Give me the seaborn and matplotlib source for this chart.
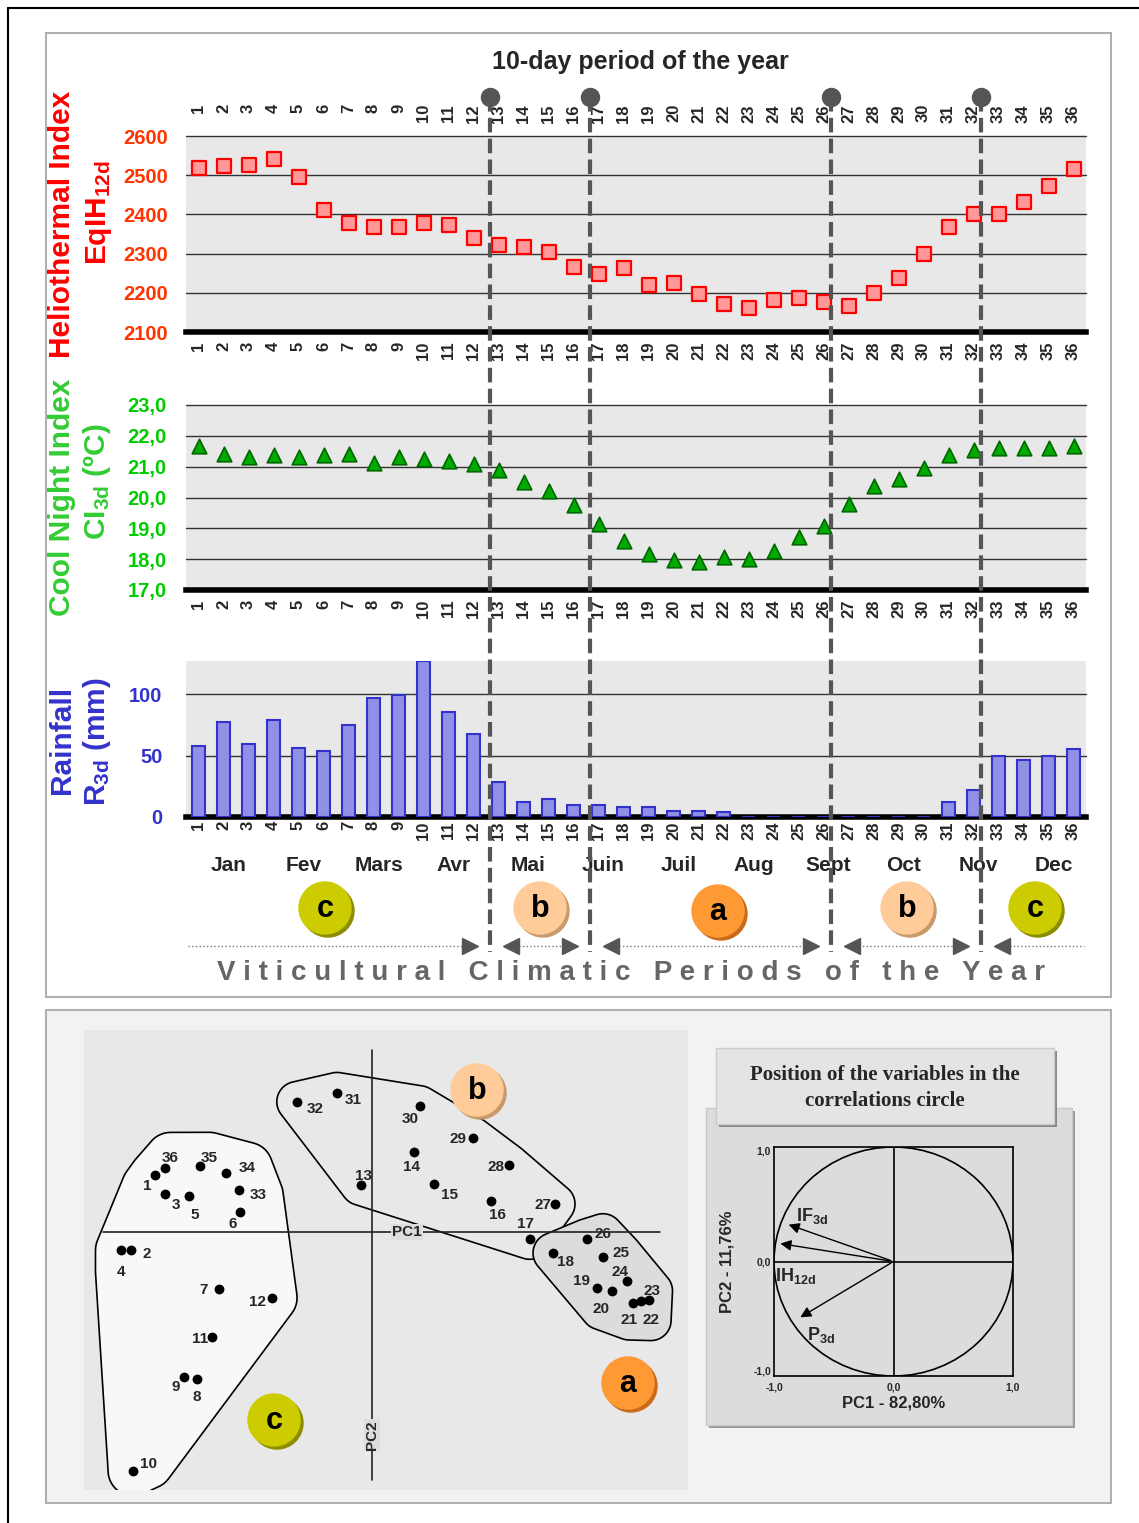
import numpy as np
import matplotlib
matplotlib.use("Agg")
import matplotlib.pyplot as plt
import seaborn as sns
from matplotlib.patches import Rectangle, Circle, Polygon

# ---- data ----
decades = list(range(1, 37))
heliothermal = [2518, 2523, 2527, 2542, 2496, 2411, 2377, 2368, 2368, 2377, 2373, 2341,
                2323, 2318, 2304, 2266, 2248, 2262, 2219, 2224, 2196, 2171, 2161, 2181,
                2186, 2177, 2166, 2200, 2238, 2300, 2368, 2400, 2400, 2432, 2472, 2515]
cool_night = [21.66, 21.42, 21.31, 21.37, 21.31, 21.37, 21.42, 21.13, 21.31, 21.26, 21.18, 21.08,
              20.90, 20.50, 20.20, 19.75, 19.13, 18.60, 18.18, 17.96, 17.90, 18.08, 18.02, 18.25,
              18.73, 19.08, 19.80, 20.37, 20.60, 20.97, 21.37, 21.55, 21.61, 21.61, 21.61, 21.66]
rainfall = [57.8, 77.4, 59.4, 78.8, 56.5, 53.8, 74.5, 96.5, 99.7, 126.9, 85.5, 67.7,
            28.8, 12.1, 15.0, 9.7, 9.7, 8.1, 8.0, 4.8, 4.8, 3.8, 0, 0,
            0, 0, 0, 0, 0, 0, 12.4, 21.8, 49.5, 46.8, 49.7, 55.4]
months = ["Jan", "Fev", "Mars", "Avr", "Mai", "Juin", "Juil", "Aug", "Sept", "Oct", "Nov", "Dec"]
period_bounds = [0.5, 12.65, 16.65, 26.28, 32.3, 36.5]
period_names = ["c", "b", "a", "b", "c"]

# PCA scores of the 36 decades
pc1 = [-3.10, -3.44, -2.95, -3.59, -2.61, -1.89, -2.18, -2.50, -2.69, -3.41, -2.28, -1.43,
       -0.16, 0.60, 0.88, 1.70, 2.25, 2.59, 3.21, 3.43, 3.73, 3.84, 3.96, 3.64,
       3.30, 3.07, 2.61, 1.96, 1.44, 0.68, -0.50, -1.07, -1.90, -2.08, -2.45, -2.95]
pc2 = [0.81, -0.25, 0.55, -0.26, 0.51, 0.29, -0.82, -2.10, -2.07, -3.41, -1.50, -0.94,
       0.67, 1.14, 0.69, 0.44, -0.10, -0.30, -0.80, -0.85, -1.01, -0.99, -0.97, -0.70,
       -0.36, -0.10, 0.40, 0.96, 1.35, 1.80, 1.99, 1.86, 0.60, 0.85, 0.95, 0.92]
groups = ["c"] * 12 + ["b"] * 5 + ["a"] * 9 + ["b"] * 6 + ["c"] * 4

variables = ["IF$_{3d}$", "IH$_{12d}$", "P$_{3d}$"]
var_pc1 = [-0.90, -0.97, -0.80]
var_pc2 = [0.33, 0.16, -0.50]

# ---- style ----
sns.set_style("white")
plt.rcParams["font.family"] = ["Liberation Sans", "DejaVu Sans"]
plt.rcParams["mathtext.fontset"] = "custom"
plt.rcParams["mathtext.rm"] = "Liberation Sans"
plt.rcParams["mathtext.it"] = "Liberation Sans:italic"
plt.rcParams["mathtext.bf"] = "Liberation Sans:bold"
plt.rcParams["mathtext.default"] = "bf"

W, H = 1139, 1523
BADGE = {"a": ("#ff9933", "#c86a1a"), "b": ("#ffcc99", "#c8996a"), "c": ("#cccc00", "#8c8c00")}


def rect(x0, y0, x1, y1):
    return [x0 / W, 1 - y1 / H, (x1 - x0) / W, (y1 - y0) / H]


def style_panel(ax, ticks, labels, color, pad, lim):
    ax.set_facecolor("#e8e8e8")
    for s in ["top", "right", "left"]:
        ax.spines[s].set_visible(False)
    ax.spines["bottom"].set_linewidth(4)
    ax.spines["bottom"].set_color("black")
    ax.set_ylim(*lim)
    ax.set_yticks(ticks, labels)
    ax.tick_params(axis="y", length=0, pad=pad, labelcolor=color, labelsize=14.5)
    for lab in ax.get_yticklabels():
        lab.set_fontweight("bold")
    for t in ticks[1:]:
        ax.axhline(t, color="#333333", lw=1, zorder=0.5, clip_on=False)
    ax.set_xlim(0.5, 36.5)
    ax.set_xticks(decades, [str(d) for d in decades], rotation=90,
                  fontweight="bold", fontsize=12)
    ax.tick_params(axis="x", length=4, width=1, pad=3, color="black")
    ax.set_xlabel("")
    ax.set_ylabel("")
    ax.grid(False)


def convex_hull(points):
    pts = sorted(set(points))

    def cross(o, a, b):
        return (a[0] - o[0]) * (b[1] - o[1]) - (a[1] - o[1]) * (b[0] - o[0])

    lower, upper = [], []
    for p in pts:
        while len(lower) >= 2 and cross(lower[-2], lower[-1], p) <= 0:
            lower.pop()
        lower.append(p)
    for p in reversed(pts):
        while len(upper) >= 2 and cross(upper[-2], upper[-1], p) <= 0:
            upper.pop()
        upper.append(p)
    return lower[:-1] + upper[:-1]


def blob(xs, ys, r):
    ang = np.linspace(0, 2 * np.pi, 48, endpoint=False)
    pts = [(x + r * np.cos(a), y + r * np.sin(a)) for x, y in zip(xs, ys) for a in ang]
    return np.array(convex_hull(pts))


def badge(ax, x, y, letter, r=26):
    face, shade = BADGE[letter]
    ax.add_patch(Circle((x + 3, y + 3), r, color=shade, zorder=5))
    ax.add_patch(Circle((x, y), r, color=face, zorder=6))
    ax.text(x, y + 1, letter, ha="center", va="center", fontsize=22,
            fontweight="bold", color="black", zorder=7)


fig = plt.figure(figsize=(W / 100, H / 100), dpi=100)

# ---- background frames ----
bg = fig.add_axes([0, 0, 1, 1])
bg.set_xlim(0, W)
bg.set_ylim(H, 0)
bg.axis("off")
bg.plot([8, W], [8, 8], color="black", lw=1.5)
bg.plot([8, 8], [8, H], color="black", lw=1.5)
bg.add_patch(Rectangle((46, 33), 1065, 964, facecolor="white", edgecolor="#b0b0b0", lw=1.5))
bg.add_patch(Rectangle((46, 1010), 1065, 493, facecolor="#f2f2f2", edgecolor="#b0b0b0", lw=1.5))
# correlation circle boxes
bg.add_patch(Rectangle((709, 1111), 366, 317, facecolor="#9a9a9a", edgecolor="none"))
bg.add_patch(Rectangle((706, 1108), 366, 317, facecolor="#dcdcdc", edgecolor="#c8c8c8", lw=1))
bg.add_patch(Rectangle((719, 1051), 338, 76, facecolor="#8a8a8a", edgecolor="none"))
bg.add_patch(Rectangle((716, 1048), 338, 76, facecolor="#e4e4e4", edgecolor="#cccccc", lw=1))
bg.text(885, 1088, "Position of the variables in the\ncorrelations circle", ha="center",
        va="center", fontsize=15, fontweight="bold", family="Liberation Serif",
        linespacing=1.45)

# ---- heliothermal index ----
ax1 = fig.add_axes(rect(186, 136, 1086, 332))
sns.scatterplot(x=decades, y=heliothermal, ax=ax1, marker="s", s=100, color="#ff9999",
                edgecolor="#ff0000", linewidth=1.6, zorder=3)
style_panel(ax1, [2100, 2200, 2300, 2400, 2500, 2600],
            ["2100", "2200", "2300", "2400", "2500", "2600"], "#ff3300", 13, (2100, 2600))

# ---- cool night index ----
ax2 = fig.add_axes(rect(186, 405, 1086, 590))
sns.scatterplot(x=decades, y=cool_night, ax=ax2, marker="^", s=110, color="#00aa00",
                edgecolor="#006600", linewidth=1.2, zorder=3)
ct = [17, 18, 19, 20, 21, 22, 23]
style_panel(ax2, ct, [f"{v},0" for v in ct], "#00cc00", 14, (17, 23))

# ---- rainfall ----
ax3 = fig.add_axes(rect(186, 661, 1086, 817))
sns.barplot(x=decades, y=rainfall, ax=ax3, native_scale=True, width=0.55, color="#9090e6",
            edgecolor="#3333cc", linewidth=1.5, saturation=1, zorder=3)
style_panel(ax3, [0, 50, 100], ["0", "50", "100"], "#3333cc", 17, (0, 127))
ax3.tick_params(axis="x", length=0)
ax3.set_xticks([d + 0.5 for d in decades[:-1]], minor=True)
ax3.tick_params(axis="x", which="minor", length=4, color="black")

# ---- overlay in decade units ----
ov = fig.add_axes(rect(186, 0, 1086, H))
ov.set_xlim(0.5, 36.5)
ov.set_ylim(H, 0)
ov.axis("off")
for d in decades:
    ov.text(d, 104, str(d), rotation=90, ha="center", va="top", fontsize=12, fontweight="bold")
for i, m in enumerate(months):
    ov.text(3 * i + 2.2, 865, m, ha="center", va="center", fontsize=15, fontweight="bold")
for b in period_bounds[1:-1]:
    ov.plot([b, b], [97, 952], color="#555555", lw=3, dashes=(3.5, 1.5), zorder=8)
    ov.plot(b, 97, "o", ms=13, color="#555555", zorder=9)
for k in range(len(period_names)):
    lo, hi = period_bounds[k], period_bounds[k + 1]
    x0 = lo + 0.55 if k > 0 else 0.58
    x1 = hi - 0.5 if k < len(period_names) - 1 else 36.4
    ov.plot([x0, x1], [946, 946], color="#777777", lw=1, ls=":")
    if k > 0:
        ov.plot(x0 + 0.3, 946, marker="<", ms=11, color="#555555", lw=0)
    if k < len(period_names) - 1:
        ov.plot(x1 - 0.3, 946, marker=">", ms=11, color="#555555", lw=0)

# ---- PCA of decades ----
axp = fig.add_axes(rect(84, 1030, 688, 1490))
axp.set_facecolor("#e8e8e8")
for s in axp.spines.values():
    s.set_visible(False)
offsets = {1: (-8, 11), 2: (16, 4), 3: (10, 11), 4: (0, 22), 5: (5, 19), 6: (-7, 12),
           7: (-16, 1), 8: (0, 18), 9: (-8, 10), 10: (15, -7), 11: (-12, 2), 12: (-14, 4),
           13: (3, -9), 14: (-3, 15), 15: (16, 11), 16: (6, 14), 17: (-4, -15), 18: (12, 9),
           19: (-15, -7), 20: (-11, 18), 21: (-4, 17), 22: (10, 19), 23: (3, -9), 24: (-7, -9),
           25: (18, -4), 26: (16, -5), 27: (-12, 1), 28: (-13, 2), 29: (-15, 1), 30: (-9, 13),
           31: (16, 7), 32: (18, 7), 33: (19, 5), 34: (21, -5), 35: (9, -8), 36: (5, -10)}
fills = {"c": "#f8f8f8", "b": "none", "a": "#dcdcdc"}
pads = {"c": 0.36, "b": 0.29, "a": 0.29}
for g in ["c", "b", "a"]:
    xs, ys = [], []
    for d, x, y, gg in zip(decades, pc1, pc2, groups):
        if gg == g:
            dx, dy = offsets[d]
            xs += [x, x + dx / 70]
            ys += [y, y - dy / 70]
    hull = blob(xs, ys, pads[g])
    axp.add_patch(Polygon(hull, closed=True, facecolor=fills[g], edgecolor="black",
                          lw=1.2, zorder=1))
axp.plot([0, 0], [-3.543, 2.6], color="#222222", lw=1.2, zorder=2)
axp.plot([-3.843, 4.114], [0, 0], color="#222222", lw=1.2, zorder=2)
axp.text(0.5, 0, "PC1", ha="center", va="center", fontsize=11, fontweight="bold",
         bbox=dict(facecolor="#dddddd", edgecolor="none", pad=1), zorder=3)
axp.text(0, -2.9, "PC2", rotation=90, ha="center", va="center", fontsize=11,
         fontweight="bold", bbox=dict(facecolor="#dddddd", edgecolor="none", pad=1), zorder=3)
sns.scatterplot(x=pc1, y=pc2, ax=axp, color="black", s=50, linewidth=0, zorder=4)
for d, x, y in zip(decades, pc1, pc2):
    dx, dy = offsets[d]
    axp.annotate(str(d), (x, y), xytext=(dx * 0.72, -dy * 0.72), textcoords="offset points",
                 ha="center", va="center", fontsize=11, fontweight="bold", zorder=5)
axp.set_xlim(-4.114, 4.514)
axp.set_ylim(-3.686, 2.886)
axp.set_xticks([])
axp.set_yticks([])
axp.set_xlabel("")
axp.set_ylabel("")

# ---- correlation circle ----
axc = fig.add_axes(rect(774, 1147, 1013, 1376))
axc.set_facecolor("none")
axc.set_xlim(-1, 1)
axc.set_ylim(-1, 1)
for s in axc.spines.values():
    s.set_color("black")
    s.set_linewidth(1.2)
axc.add_patch(Circle((0, 0), 1, fill=False, lw=1.2, color="black"))
axc.axhline(0, color="black", lw=1.2)
axc.axvline(0, color="black", lw=1.2)
for name, x, y in zip(variables, var_pc1, var_pc2):
    axc.annotate("", xy=(x, y), xytext=(0, 0),
                 arrowprops=dict(arrowstyle="-|>", color="black", lw=1, mutation_scale=16))
axc.text(-0.82, 0.40, variables[0], fontsize=13, fontweight="bold", ha="left", va="center")
axc.text(-0.99, -0.13, variables[1], fontsize=13, fontweight="bold", ha="left", va="center")
axc.text(-0.72, -0.64, variables[2], fontsize=13, fontweight="bold", ha="left", va="center")
axc.set_xticks([-1, 0, 1], ["-1,0", "0,0", "1,0"])
axc.set_yticks([-1, 0, 1], ["-1,0", "0,0", "1,0"])
axc.tick_params(length=0, labelsize=7.5, pad=2)
axc.tick_params(axis="x", pad=5)
for lab in axc.get_xticklabels() + axc.get_yticklabels():
    lab.set_fontweight("bold")
ylabs = axc.get_yticklabels()
ylabs[0].set_verticalalignment("bottom")
ylabs[2].set_verticalalignment("top")
axc.set_xlabel("PC1 - 82,80%", fontsize=12, fontweight="bold", labelpad=2)
axc.set_ylabel("PC2 - 11,76%", fontsize=12, fontweight="bold", labelpad=14)

# ---- foreground: titles, axis names, badges ----
fg = fig.add_axes([0, 0, 1, 1])
fg.set_xlim(0, W)
fg.set_ylim(H, 0)
fg.axis("off")
fg.text(640, 62, "10-day period of the year", ha="center", va="center", fontsize=18,
        fontweight="bold")
ylab_size = 21.5
fg.text(62, 224, "Heliothermal Index", rotation=90, ha="center", va="center",
        color="#ff0000", fontsize=ylab_size, fontweight="bold")
fg.text(99, 213, "EqIH$_{12d}$", rotation=90, ha="center", va="center",
        color="#ff0000", fontsize=ylab_size, fontweight="bold")
fg.text(62, 497, "Cool Night Index", rotation=90, ha="center", va="center",
        color="#33cc33", fontsize=ylab_size, fontweight="bold")
fg.text(97, 482, "CI$_{3d}$ (ºC)", rotation=90, ha="center", va="center",
        color="#33cc33", fontsize=ylab_size, fontweight="bold")
fg.text(62, 740, "Rainfall", rotation=90, ha="center", va="center",
        color="#3333cc", fontsize=ylab_size, fontweight="bold")
fg.text(97, 742, "R$_{3d}$ (mm)", rotation=90, ha="center", va="center",
        color="#3333cc", fontsize=ylab_size, fontweight="bold")
words = "Viticultural Climatic Periods of the Year".split()
fg.text(631, 973, "   ".join(" ".join(w) for w in words), ha="center", va="center",
        fontsize=20, fontweight="bold", color="#666666")
for x, y, letter in [(325, 908, "c"), (540, 908, "b"), (718, 911, "a"), (907, 908, "b"),
                     (1035, 908, "c"), (477, 1090, "b"), (628, 1383, "a"), (274, 1420, "c")]:
    badge(fg, x, y, letter)

fig.savefig("out.png", dpi=100)
